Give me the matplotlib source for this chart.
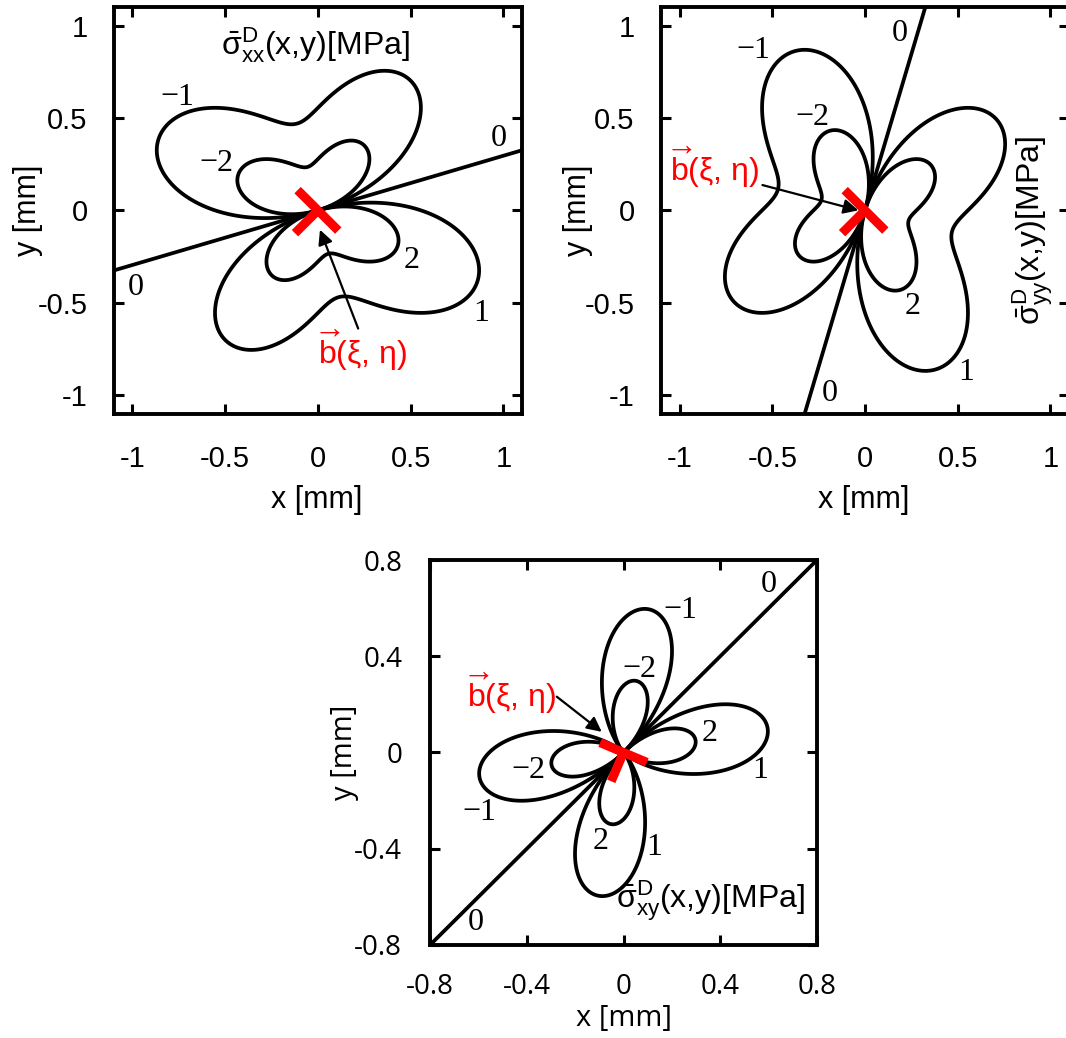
import numpy as np
import matplotlib
matplotlib.use('Agg')
import matplotlib.pyplot as plt

plt.rcParams['font.family'] = ['Liberation Sans', 'DejaVu Sans']
plt.rcParams['mathtext.fontset'] = 'custom'
plt.rcParams['mathtext.rm'] = 'Liberation Sans'
plt.rcParams['mathtext.it'] = 'Liberation Sans'
plt.rcParams['mathtext.bf'] = 'Liberation Sans:bold'
plt.rcParams['mathtext.default'] = 'regular'
plt.rcParams['axes.unicode_minus'] = False

# contour levels [MPa] and dislocation parameters
levels = [-2, -1, 0, 1, 2]
burgers_angle = 45.0      # direction of b, degrees
amplitude = 0.785         # MPa*mm

top_ticks = [-1, -0.5, 0, 0.5, 1]
top_ticklabels = ['-1', '-0.5', '0', '0.5', '1']
bot_ticks = [-0.8, -0.4, 0, 0.4, 0.8]
bot_ticklabels = ['-0.8', '-0.4', '0', '0.4', '0.8']

# contour labels: (level, x, y)
labels_xx = [(-1, -0.76, 0.61), (-2, -0.55, 0.255), (0, 0.975, 0.39), (0, -0.985, -0.42),
             (2, 0.505, -0.27), (1, 0.88, -0.56)]
labels_yy = [(0, 0.19, 0.955), (-1, -0.60, 0.865), (-2, -0.285, 0.505), (2, 0.255, -0.52),
             (1, 0.545, -0.88), (0, -0.19, -0.99)]
labels_xy = [(0, 0.60, 0.70), (-1, 0.235, 0.59), (-2, 0.065, 0.345), (2, 0.355, 0.077),
             (1, 0.567, -0.076), (-2, -0.394, -0.076), (-1, -0.597, -0.25), (2, -0.094, -0.371),
             (1, 0.126, -0.394), (0, -0.61, -0.705)]


def stress(comp, x, y):
    # edge dislocation at origin, Burgers vector at burgers_angle
    bx = np.cos(np.radians(burgers_angle))
    by = np.sin(np.radians(burgers_angle))
    r4 = (x**2 + y**2)**2
    if comp == 'xx':
        num = -bx * y * (3 * x**2 + y**2) + by * x * (x**2 - y**2)
    elif comp == 'yy':
        num = bx * y * (x**2 - y**2) + by * x * (x**2 + 3 * y**2)
    else:
        num = (x**2 - y**2) * (bx * x + by * y)
    return amplitude * num / r4


def lvl_text(v):
    return ('\u2212%d' % -v) if v < 0 else '%d' % v


def setup(ax, lim, ticks, ticklabels, fam, fsize, xpad, ypad):
    ax.set_xlim(-lim, lim)
    ax.set_ylim(-lim, lim)
    ax.set_xticks(ticks)
    ax.set_yticks(ticks)
    ax.set_xticklabels(ticklabels, fontfamily=fam)
    ax.set_yticklabels(ticklabels, fontfamily=fam)
    ax.tick_params(direction='in', length=7, width=2.2, top=True, right=True, labelsize=fsize)
    ax.tick_params(axis='x', pad=xpad)
    ax.tick_params(axis='y', pad=ypad)
    for s in ax.spines.values():
        s.set_linewidth(2.8)


def draw_field(ax, comp, lim, labs):
    xs = np.linspace(-lim, lim, 1200)
    ys = np.linspace(-lim, lim, 1201)
    X, Y = np.meshgrid(xs, ys)
    Z = stress(comp, X, Y)
    ax.contour(X, Y, Z, levels=levels, colors='k', linewidths=2.7, linestyles='solid')
    for v, tx, ty in labs:
        ax.text(tx, ty, lvl_text(v), family='Liberation Serif', size=23, ha='center', va='center')


def dislocation(ax, angle, half, stub):
    a = np.radians(angle)
    ax.plot([-half * np.cos(a), half * np.cos(a)], [-half * np.sin(a), half * np.sin(a)],
            color='red', lw=6.5, solid_capstyle='butt', zorder=5)
    ax.plot([0, stub * np.cos(a - np.pi / 2)], [0, stub * np.sin(a - np.pi / 2)],
            color='red', lw=6.5, solid_capstyle='butt', zorder=5)


def bvec(ax, tx, ty, start, end):
    ax.text(tx, ty, r'$\overrightarrow{\mathrm{b}}$(ξ, η)', color='red', size=23,
            ha='center', va='center')
    ax.annotate('', xy=end, xytext=start,
                arrowprops=dict(arrowstyle='-|>', color='k', lw=1.6, mutation_scale=22,
                                shrinkA=0, shrinkB=0), zorder=6)


fig = plt.figure(figsize=(10.66, 10.38), dpi=100)

# sigma_xx
ax1 = fig.add_axes([0.1069, 0.6016, 0.3827, 0.3915])
setup(ax1, 1.1, top_ticks, top_ticklabels, 'Liberation Sans', 21, 23, 19)
draw_field(ax1, 'xx', 1.1, labels_xx)
dislocation(ax1, -45, 0.155, 0.175)
bvec(ax1, 0.24, -0.755, (0.217, -0.64), (0.011, -0.105))
ax1.text(-0.016, 0.897, r'$\bar{\sigma}^{\mathrm{D}}_{\mathrm{xx}}$(x,y)[MPa]', size=23,
         ha='center', va='center')
ax1.set_xlabel('x [mm]', size=22, va='center')
ax1.xaxis.set_label_coords(0.497, -0.213)
ax1.set_ylabel('y [mm]', size=22, va='center')
ax1.yaxis.set_label_coords(-0.211, 0.5)

# sigma_yy
ax2 = fig.add_axes([0.6201, 0.6016, 0.3827, 0.3915])
setup(ax2, 1.1, top_ticks, top_ticklabels, 'Liberation Sans', 21, 23, 19)
draw_field(ax2, 'yy', 1.1, labels_yy)
dislocation(ax2, -45, 0.155, 0.175)
bvec(ax2, -0.81, 0.236, (-0.553, 0.137), (-0.036, 0.0))
ax2.text(0.906, -0.11, r'$\bar{\sigma}^{\mathrm{D}}_{\mathrm{yy}}$(x,y)[MPa]', size=23,
         ha='center', va='center', rotation=90)
ax2.set_xlabel('x [mm]', size=22, va='center')
ax2.xaxis.set_label_coords(0.497, -0.213)
ax2.set_ylabel('y [mm]', size=22, va='center')
ax2.yaxis.set_label_coords(-0.203, 0.5)

# sigma_xy
ax3 = fig.add_axes([0.4034, 0.0896, 0.3630, 0.3709])
setup(ax3, 0.8, bot_ticks, bot_ticklabels, 'Open Sans', 20, 20, 20)
draw_field(ax3, 'xy', 0.8, labels_xy)
dislocation(ax3, -23, 0.105, 0.13)
bvec(ax3, -0.462, 0.246, (-0.276, 0.232), (-0.09, 0.086))
ax3.text(0.36, -0.617, r'$\bar{\sigma}^{\mathrm{D}}_{\mathrm{xy}}$(x,y)[MPa]', size=23,
         ha='center', va='center')
ax3.set_xlabel('x [mm]', size=21, va='center', fontfamily='Open Sans')
ax3.xaxis.set_label_coords(0.5, -0.19)
ax3.set_ylabel('y [mm]', size=21, va='center', fontfamily='Open Sans')
ax3.yaxis.set_label_coords(-0.22, 0.5)

fig.savefig('out.png', dpi=100)
